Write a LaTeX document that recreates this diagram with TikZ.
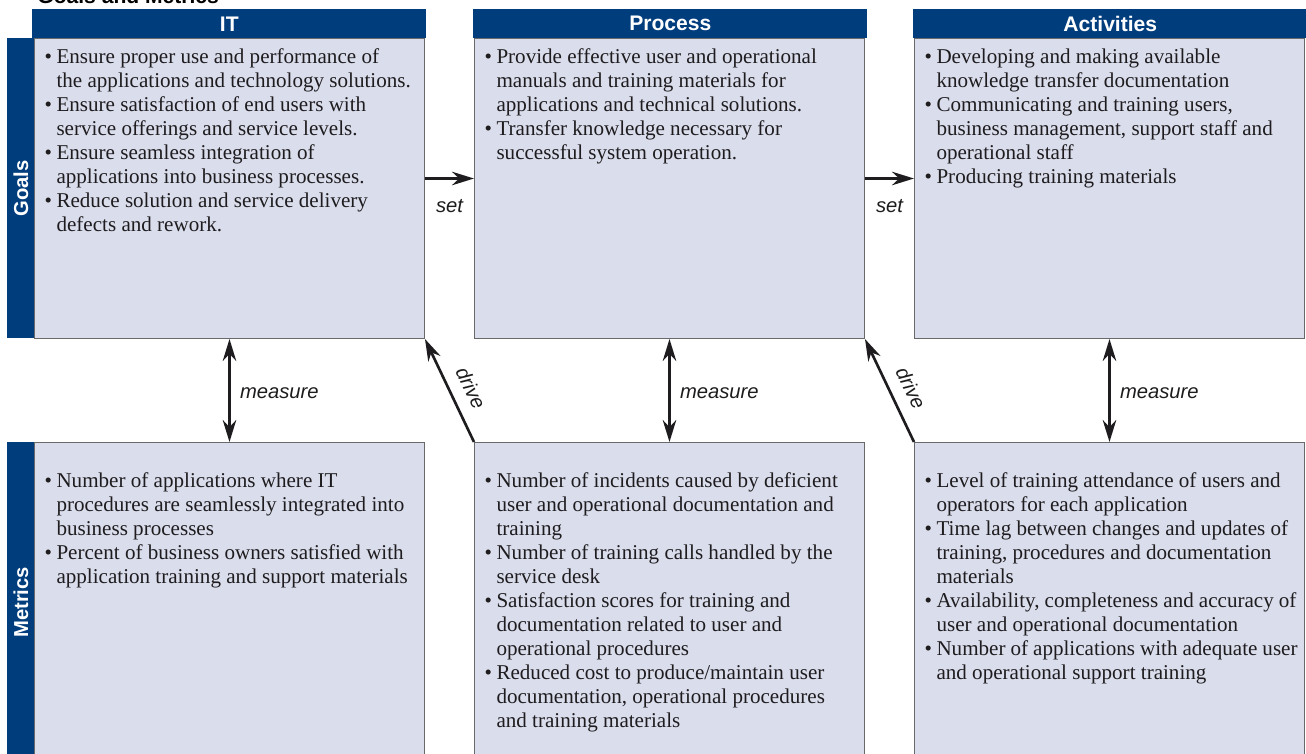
\documentclass[tikz,border=0pt]{standalone}
\usepackage{fontspec}
\setmainfont{Liberation Serif}
\setsansfont{Liberation Sans}
\usetikzlibrary{arrows.meta,positioning}
\definecolor{navy}{RGB}{0,61,125}
\definecolor{panelfill}{RGB}{218,221,236}
\definecolor{edgegray}{RGB}{105,105,105}
\definecolor{ink}{RGB}{30,28,30}
\newcommand{\pitem}{\par\hangindent=0.24cm\hangafter=1\noindent\makebox[0.24cm][l]{\textbullet}}
\newcommand{\paneltext}[2]{\parbox[c][#1][t]{7.40cm}{\raggedright\rightskip=0pt plus 1fil minus 0.4cm\let\\\newline\fontsize{12}{13.66}\selectfont #2}}
\tikzset{
    header/.style={
        rectangle,
        fill=navy,
        anchor=north west,
        minimum width=7.88cm,
        minimum height=0.58cm,
        inner sep=0pt,
        text=white,
        font=\sffamily\bfseries\fontsize{12}{14}\selectfont
    },
    sidebar/.style={
        rectangle,
        fill=navy,
        anchor=north west,
        minimum width=0.54cm,
        inner sep=0pt,
        text=white,
        font=\sffamily\bfseries\fontsize{11.5}{14}\selectfont
    },
    panel/.style={
        rectangle,
        draw=edgegray,
        fill=panelfill,
        anchor=north west,
        inner xsep=0.2cm,
        inner ysep=0.2cm,
        line width=0.6pt,
        text=ink
    },
    arrow/.style={
        -{Stealth[length=4.4mm,width=2.7mm]},
        line width=1.5pt,
        draw=ink
    },
    twoway/.style={
        {Stealth[length=4.4mm,width=2.7mm]}-{Stealth[length=4.4mm,width=2.7mm]},
        line width=1.5pt,
        draw=ink
    },
    tag/.style={
        font=\sffamily\itshape\fontsize{11.5}{14}\selectfont,
        text=ink,
        inner sep=1pt
    }
}

\begin{document}
\begin{tikzpicture}[x=0.02cm, y=-0.02cm]
    \useasboundingbox (0,0) rectangle (1306,754);
    \node[anchor=base west, inner sep=0pt, font=\sffamily\bfseries\fontsize{12}{14}\selectfont] (title) at (37,3) {Goals and Metrics};

    % Side bars
    \node[sidebar, minimum height=6cm] (goals) at (7,38) {\rotatebox{90}{Goals}};
    \node[sidebar, minimum height=6.4cm] (metrics) at (7,442) {\rotatebox{90}{Metrics}};

    % Goal panels
    \node[panel] (itg) at (34,38) {\paneltext{5.6cm}{%
        \pitem Ensure proper use and performance of\\ the applications and technology solutions.
        \pitem Ensure satisfaction of end users with\\ service offerings and service levels.
        \pitem Ensure seamless integration of\\ applications into business processes.
        \pitem Reduce solution and service delivery\\ defects and rework.}};
    \node[panel] (prg) at (474,38) {\paneltext{5.6cm}{%
        \pitem Provide effective user and operational\\ manuals and training materials for\\ applications and technical solutions.
        \pitem Transfer knowledge necessary for\\ successful system operation.}};
    \node[panel] (acg) at (914,38) {\paneltext{5.6cm}{%
        \pitem Developing and making available\\ knowledge transfer documentation
        \pitem Communicating and training users,\\ business management, support staff and\\ operational staff
        \pitem Producing training materials}};

    % Metric panels
    \node[panel] (itm) at (34,442) {\paneltext{6.0cm}{\vspace*{0.4cm}%
        \pitem Number of applications where IT\\ procedures are seamlessly integrated into\\ business processes
        \pitem Percent of business owners satisfied with\\ application training and support materials}};
    \node[panel] (prm) at (474,442) {\paneltext{6.0cm}{\vspace*{0.4cm}%
        \pitem Number of incidents caused by deficient\\ user and operational documentation and\\ training
        \pitem Number of training calls handled by the\\ service desk
        \pitem Satisfaction scores for training and\\ documentation related to user and\\ operational procedures
        \pitem Reduced cost to produce/maintain user\\ documentation, operational procedures\\ and training materials}};
    \node[panel] (acm) at (914,442) {\paneltext{6.0cm}{\vspace*{0.4cm}%
        \pitem Level of training attendance of users and\\ operators for each application
        \pitem Time lag between changes and updates of\\ training, procedures and documentation\\ materials
        \pitem Availability, completeness and accuracy of\\ user and operational documentation
        \pitem Number of applications with adequate user\\ and operational support training}};

    % Headers
    \node[header] (hit) at (32,9) {IT};
    \node[header] (hpr) at (473,9) {Process};
    \node[header] (hac) at (913,9) {Activities};

    % Connectors
    \draw[arrow] ([yshift=0.2cm]itg.east) -- ([yshift=0.2cm]prg.west) node[midway, tag, below=0.35cm] {set};
    \draw[arrow] ([yshift=0.2cm]prg.east) -- ([yshift=0.2cm]acg.west) node[midway, tag, below=0.35cm] {set};
    \draw[twoway] (itg.south) -- (itm.north) node[midway, tag, right=0.15cm, yshift=-0.06cm] {measure};
    \draw[twoway] (prg.south) -- (prm.north) node[midway, tag, right=0.15cm, yshift=-0.06cm] {measure};
    \draw[twoway] (acg.south) -- (acm.north) node[midway, tag, right=0.15cm, yshift=-0.06cm] {measure};
    \draw[arrow] (prm.north west) -- (itg.south east) node[pos=0.44, tag, sloped, above=0.2cm] {drive};
    \draw[arrow] (acm.north west) -- (prg.south east) node[pos=0.44, tag, sloped, above=0.2cm] {drive};
\end{tikzpicture}
\end{document}
